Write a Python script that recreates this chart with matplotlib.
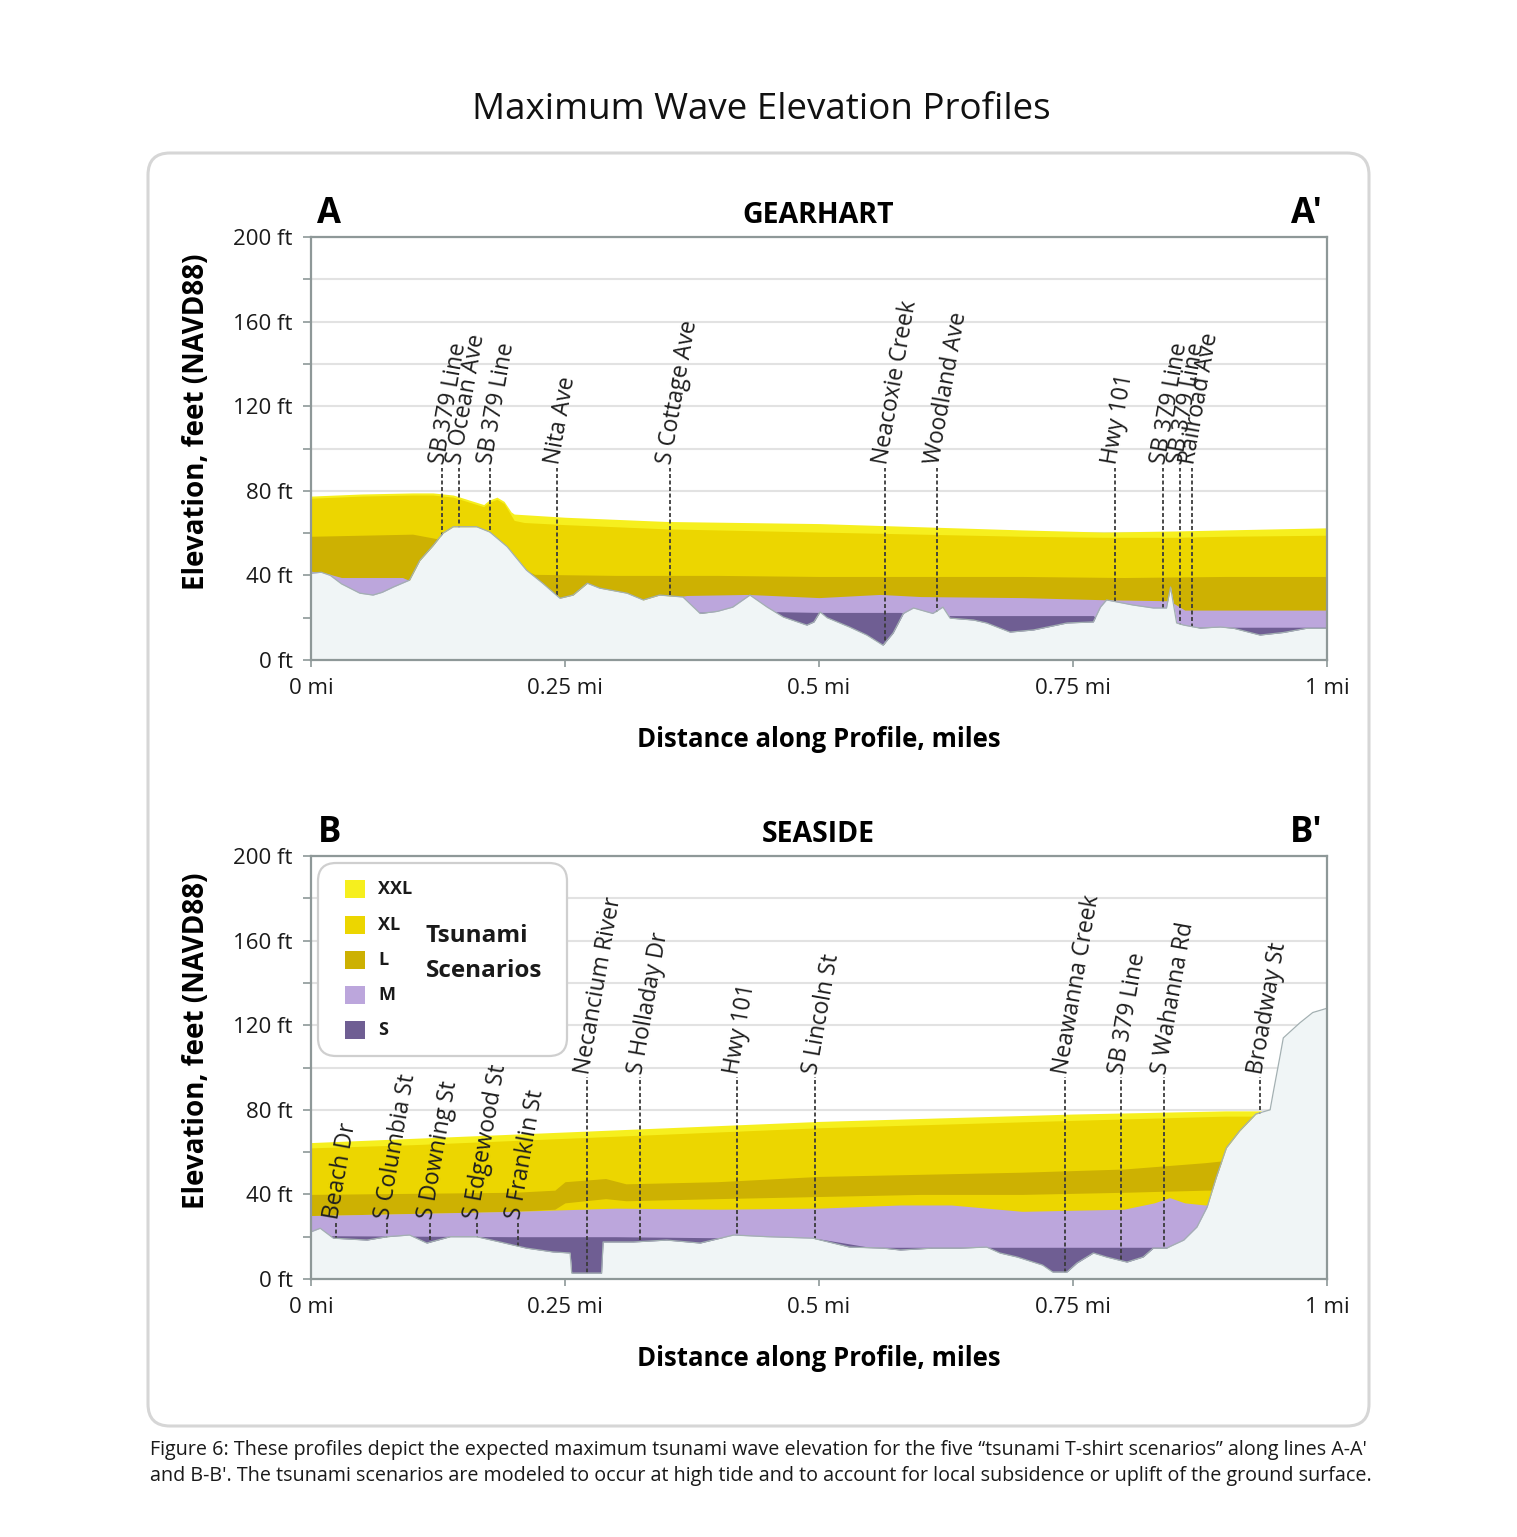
import matplotlib
matplotlib.use('Agg')
import matplotlib.pyplot as plt
from matplotlib.patches import FancyBboxPatch, Rectangle
from matplotlib.ticker import MultipleLocator, FixedLocator, FixedFormatter

plt.rcParams['font.family'] = ['Open Sans', 'DejaVu Sans']

# ---------------- data ----------------
scen_names = ['XXL', 'XL', 'L', 'M', 'S']
scen_colors = ['#f6ef1e', '#ecd600', '#cdb102', '#bca6dc', '#6f5e93']

y_ticks = [0, 40, 80, 120, 160, 200]
x_ticks = [0, 0.25, 0.5, 0.75, 1.0]
x_tick_labels = ['0 mi', '0.25 mi', '0.5 mi', '0.75 mi', '1 mi']

# Gearhart (A - A')
a_xxl_x = [0, 0.05, 0.1, 0.12, 0.14, 0.16, 0.17, 0.175, 0.183, 0.19, 0.197, 0.2, 0.25, 0.35, 0.5, 0.6, 0.7, 0.78, 0.85, 0.9, 1.0]
a_xxl = [77.5, 78.5, 79, 79, 78, 75, 73.5, 75.5, 77, 75, 70, 69, 67.5, 65.5, 64.5, 63, 61.5, 60.5, 61, 61.5, 62.5]
a_xl_x = [0, 0.05, 0.1, 0.12, 0.14, 0.16, 0.17, 0.175, 0.183, 0.19, 0.2, 0.21, 0.25, 0.35, 0.5, 0.6, 0.7, 0.78, 0.85, 0.9, 1.0]
a_xl = [76.5, 77.5, 78, 78, 77, 74, 72.5, 74.5, 76, 74, 66, 65, 64, 62, 60.5, 59.5, 58.5, 58, 58, 58.5, 59]
a_l_x = [0, 0.05, 0.1, 0.15, 0.2, 0.22, 0.3, 0.4, 0.5, 0.6, 0.7, 0.8, 0.9, 1.0]
a_l = [58.5, 59, 59.5, 55, 45, 40.5, 40, 40, 39.5, 39.5, 39.5, 39, 39.5, 39.5]
a_m_x = [0, 0.015, 0.03, 0.09, 0.1, 0.2, 0.33, 0.37, 0.43, 0.5, 0.56, 0.6, 0.7, 0.78, 0.845, 0.86, 1.0]
a_m = [42, 41, 39, 39, 37, 30, 28, 30.5, 31, 29.5, 31, 30, 29.5, 28.5, 28, 23.6, 23.6]
a_s_x = [0, 0.44, 0.5, 0.58, 0.6, 0.77, 0.78, 0.86, 1.0]
a_s = [20, 23, 22.5, 22.5, 21, 21, 16, 15.5, 15.5]
a_ground_x = [0, 0.01, 0.019, 0.03, 0.048, 0.061, 0.07, 0.081, 0.097, 0.107, 0.12, 0.13, 0.14,
              0.163, 0.176, 0.193, 0.212, 0.228, 0.245, 0.258, 0.272, 0.284, 0.311, 0.327, 0.343,
              0.366, 0.383, 0.4, 0.415, 0.432, 0.449, 0.465, 0.488, 0.495, 0.501, 0.508, 0.53,
              0.547, 0.563, 0.573, 0.583, 0.593, 0.612, 0.622, 0.629, 0.652, 0.665, 0.688, 0.711,
              0.744, 0.77, 0.777, 0.783, 0.809, 0.829, 0.842, 0.846, 0.852, 0.859, 0.875, 0.895,
              0.908, 0.934, 0.957, 0.98, 1.0]
a_ground = [41, 41.5, 40, 36, 31.6, 30.7, 32, 34.5, 37.8, 47, 54, 60, 63,
            63, 60.5, 53.6, 42.5, 36.3, 29.2, 30.7, 36.3, 34, 31.6, 28.4, 30.7,
            29.8, 22, 23, 25, 30.7, 25, 20.3, 16.5, 18, 22.7, 20, 15.6,
            11.8, 7, 12.8, 22, 24.6, 22, 25, 19.8, 18.9, 17.5, 13.2, 14.2,
            17.5, 18, 25, 28.4, 26, 24.6, 24.6, 34.5, 17.5, 16.5, 15.1, 15.6,
            15, 11.8, 13, 15, 15]
a_streets = ['SB 379 Line', 'S Ocean Ave', 'SB 379 Line', 'Nita Ave', 'S Cottage Ave',
             'Neacoxie Creek', 'Woodland Ave', 'Hwy 101', 'SB 379 Line', 'SB 379 Line', 'Railroad Ave']
a_street_x = [0.129, 0.146, 0.176, 0.242, 0.353, 0.565, 0.616, 0.791, 0.839, 0.855, 0.867]
a_street_top = [91, 91, 91, 91, 91, 91, 91, 91, 91, 91, 91]

# Seaside (B - B')
b_xxl_x = [0, 0.1, 0.25, 0.5, 0.75, 0.9, 0.935]
b_xxl = [64.5, 66.5, 69.5, 74.5, 78, 79.5, 79.5]
b_xl_x = [0, 0.1, 0.25, 0.5, 0.75, 0.9, 0.935]
b_xl = [62, 63.5, 66.5, 71.5, 75, 77, 77]
b_l_x = [0, 0.1, 0.2, 0.24, 0.25, 0.29, 0.31, 0.4, 0.5, 0.6, 0.7, 0.8, 0.88, 0.9]
b_l = [40, 40.5, 41, 42, 46, 47.5, 45, 46, 48.5, 49.5, 50.5, 52, 55, 56]
b_l_low = [30, 31, 32, 33, 36, 38, 37, 38, 39, 40, 40, 41, 42, 42]
b_m_x = [0, 0.1, 0.2, 0.3, 0.4, 0.5, 0.58, 0.63, 0.7, 0.8, 0.83, 0.845, 0.86, 0.88, 0.9]
b_m = [30, 31, 32, 33.5, 33, 33.5, 35, 35, 32, 33, 36, 38.5, 36, 35, 36]
b_s_x = [0, 0.2, 0.3, 0.5, 0.55, 0.86, 0.88]
b_s = [20.5, 20, 20, 19, 15, 15, 15]
b_ground_x = [0, 0.009, 0.022, 0.055, 0.075, 0.097, 0.114, 0.137, 0.163, 0.186, 0.212, 0.238,
              0.255, 0.2566, 0.286, 0.2875, 0.317, 0.35, 0.383, 0.416, 0.449, 0.494, 0.53,
              0.563, 0.58, 0.612, 0.639, 0.665, 0.678, 0.695, 0.72, 0.73, 0.744, 0.754, 0.77,
              0.783, 0.803, 0.819, 0.829, 0.842, 0.859, 0.872, 0.882, 0.891, 0.901, 0.914,
              0.93, 0.944, 0.947, 0.954, 0.957, 0.973, 0.986, 1.0]
b_ground = [22.3, 24, 19.3, 18.4, 20, 20.8, 17, 20, 20, 17.5, 14.6, 12.8,
            12.3, 2.8, 2.8, 17.5, 17.5, 18.4, 17, 20.8, 20, 19.3, 15.1,
            14.6, 13.7, 14.6, 14.6, 15.1, 12.3, 10.4, 6.6, 3.3, 3.3, 7.6, 12.3,
            10.4, 8, 10.4, 14.6, 14.6, 18.4, 24.6, 34, 48, 62, 70,
            78, 80, 88, 106, 114, 121, 126, 128]
b_streets = ['Beach Dr', 'S Columbia St', 'S Downing St', 'S Edgewood St', 'S Franklin St',
             'Necancium River', 'S Holladay Dr', 'Hwy 101', 'S Lincoln St', 'Neawanna Creek',
             'SB 379 Line', 'S Wahanna Rd', 'Broadway St']
b_street_x = [0.025, 0.075, 0.117, 0.163, 0.204, 0.272, 0.324, 0.419, 0.496, 0.742, 0.797, 0.840, 0.934]
b_street_top = [27, 27, 27, 27, 27, 95.5, 95.5, 95.5, 95.5, 95.5, 95.5, 95.5, 95.5]

caption = ["Figure 6: These profiles depict the expected maximum tsunami wave elevation for the five \u201ctsunami T-shirt scenarios\u201d along lines A-A'",
           "and B-B'. The tsunami scenarios are modeled to occur at high tide and to account for local subsidence or uplift of the ground surface."]

# ---------------- figure ----------------
W, H = 1517, 1537
fig = plt.figure(figsize=(W / 100, H / 100), dpi=100)
fig.patch.set_facecolor('white')

# background canvas in pixel units for the rounded frame
bg = fig.add_axes([0, 0, 1, 1], zorder=-5)
bg.set_xlim(0, W)
bg.set_ylim(H, 0)
bg.axis('off')
bg.add_patch(FancyBboxPatch((148, 153), 1221, 1273, boxstyle='round,pad=0,rounding_size=22',
                            fc='white', ec='#d6d6d6', lw=2.2))

fig.text(761 / W, 1 - 110 / H, 'Maximum Wave Elevation Profiles', fontsize=26.5,
         ha='center', va='center', color='#111111')

GRAY = '#8e9898'


def draw_panel(ax, layers, gx, gy, streets, sx, stop, left, name, right):
    for (lx, ly, low), c in zip(layers, scen_colors):
        base = 0 if low is None else low
        ax.fill_between(lx, base, ly, color=c, lw=0, zorder=2)
    ax.vlines(sx, 0, stop, colors='#3b3b3b', linestyles=(0, (2.2, 1.4)), lw=1.3, zorder=3)
    ax.fill_between(gx, 0, gy, color='#f0f5f6', lw=0, zorder=4)
    ax.plot(gx, gy, color='#a3b0b2', lw=0.9, zorder=5)
    for t, x, top in zip(streets, sx, stop):
        ax.text(x - 0.004, top + 1.5, t, rotation=80, rotation_mode='anchor', ha='left',
                va='center', fontsize=16.5, color='#1e1e1e', zorder=6)

    ax.set_xlim(0, 1)
    ax.set_ylim(0, 200)
    ax.yaxis.set_major_locator(FixedLocator(y_ticks))
    ax.yaxis.set_major_formatter(FixedFormatter(['%d ft' % v for v in y_ticks]))
    ax.yaxis.set_minor_locator(MultipleLocator(20))
    ax.xaxis.set_major_locator(FixedLocator(x_ticks))
    ax.xaxis.set_major_formatter(FixedFormatter(x_tick_labels))
    ax.grid(axis='y', which='both', color='#e2e2e2', lw=1.5, zorder=0)
    ax.set_axisbelow(True)
    for s in ax.spines.values():
        s.set_color(GRAY)
        s.set_linewidth(1.6)
        s.set_zorder(7)
    ax.tick_params(axis='both', which='both', color=GRAY, width=1.2, direction='out',
                   labelsize=16, labelcolor='#1a1a1a')
    ax.tick_params(axis='y', which='major', length=6, pad=7)
    ax.tick_params(axis='y', which='minor', length=6)
    ax.tick_params(axis='x', length=5, pad=8)

    ax.text(-0.113, 0.563, 'Elevation, feet (NAVD88)', rotation=90, ha='center', va='center',
            fontsize=20, fontweight='bold', transform=ax.transAxes)
    ax.text(0.5, -0.189, 'Distance along Profile, miles', ha='center', va='center',
            fontsize=18.5, fontweight='bold', transform=ax.transAxes)
    ax.text(0.018, 1.054, left, ha='center', va='center', fontsize=25, fontweight='bold',
            transform=ax.transAxes)
    ax.text(0.499, 1.052, name, ha='center', va='center', fontsize=20.5, fontweight='bold',
            transform=ax.transAxes)
    ax.text(0.98, 1.054, right, ha='center', va='center', fontsize=25, fontweight='bold',
            transform=ax.transAxes)


ax_top = fig.add_axes([311 / W, 1 - 660 / H, 1016 / W, 423 / H])
draw_panel(ax_top,
           [(a_xxl_x, a_xxl, None), (a_xl_x, a_xl, None), (a_l_x, a_l, None),
            (a_m_x, a_m, None), (a_s_x, a_s, None)],
           a_ground_x, a_ground, a_streets, a_street_x, a_street_top, 'A', 'GEARHART', "A'")

ax_bot = fig.add_axes([311 / W, 1 - 1279 / H, 1016 / W, 423 / H])
draw_panel(ax_bot,
           [(b_xxl_x, b_xxl, None), (b_xl_x, b_xl, None), (b_l_x, b_l, b_l_low),
            (b_m_x, b_m, None), (b_s_x, b_s, None)],
           b_ground_x, b_ground, b_streets, b_street_x, b_street_top, 'B', 'SEASIDE', "B'")

# legend, drawn on an overlay canvas in pixel units
ov = fig.add_axes([0, 0, 1, 1], zorder=10)
ov.set_xlim(0, W)
ov.set_ylim(H, 0)
ov.axis('off')
ov.patch.set_alpha(0)
ov.add_patch(FancyBboxPatch((318, 863), 249, 193, boxstyle='round,pad=0,rounding_size=18',
                            fc='white', ec='#cfcfcf', lw=1.6))
row_y = [889, 925, 960, 995, 1030]
for name, c, yy in zip(scen_names, scen_colors, row_y):
    ov.add_patch(Rectangle((345, yy - 9), 20, 18, fc=c, ec='none'))
    ov.text(378, yy, name, ha='left', va='center', fontsize=13, fontweight='bold', color='#1a1a1a')
ov.text(426, 936, 'Tsunami', ha='left', va='center', fontsize=17.5, fontweight='bold', color='#1a1a1a')
ov.text(426, 971, 'Scenarios', ha='left', va='center', fontsize=17.5, fontweight='bold', color='#1a1a1a')

# caption, sized to the width of the frame
cap1 = fig.text(150 / W, 1 - 1450 / H, caption[0], fontsize=12, ha='left', va='center', color='#1a1a1a')
cap2 = fig.text(150 / W, 1 - 1476 / H, caption[1], fontsize=12, ha='left', va='center', color='#1a1a1a')
r = fig.canvas.get_renderer()
wpx = cap1.get_window_extent(r).width
fs = 12 * 1215 / wpx
cap1.set_fontsize(fs)
cap2.set_fontsize(fs)

fig.savefig('out.png', dpi=100)
